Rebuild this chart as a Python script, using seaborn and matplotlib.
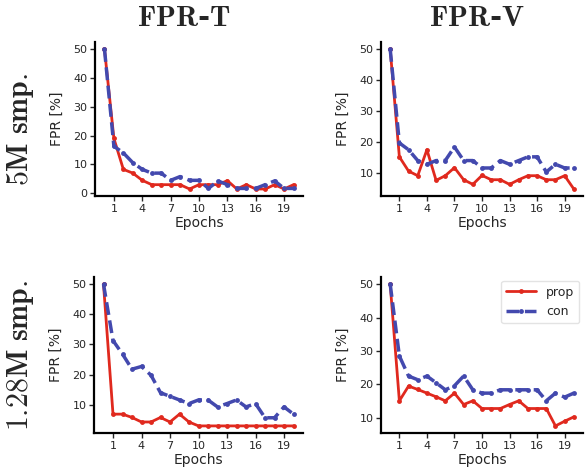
import matplotlib
matplotlib.use("Agg")
import matplotlib.pyplot as plt
import seaborn as sns
import pandas as pd
import numpy as np

# epochs 0..20
epochs = list(range(21))

# 5M samples, FPR-T
prop_5m_t = [50, 19, 8.3, 7.0, 4.5, 3.0, 3.0, 3.0, 3.0, 1.5, 3.0, 3.0, 3.0, 4.4, 1.5, 3.0, 1.5, 1.5, 3.0, 1.5, 3.0]
con_5m_t = [50, 16.3, 14.0, 10.6, 8.3, 7.0, 7.0, 4.5, 5.8, 4.5, 4.5, 1.7, 4.3, 3.0, 1.7, 1.7, 1.7, 3.0, 4.3, 1.7, 1.7]
# 5M samples, FPR-V
prop_5m_v = [50, 15.1, 10.5, 9.0, 17.4, 7.5, 9.0, 11.6, 7.7, 6.2, 9.1, 7.7, 7.7, 6.2, 7.7, 9.0, 9.0, 7.7, 7.7, 9.0, 4.7]
con_5m_v = [50, 19.6, 17.4, 13.9, 12.7, 13.9, 13.9, 18.3, 13.9, 13.9, 11.5, 11.5, 13.9, 12.7, 13.9, 15.1, 15.1, 10.2, 12.7, 11.5, 11.5]
# 1.28M samples, FPR-T
prop_128m_t = [50, 6.9, 6.9, 5.8, 4.3, 4.3, 5.8, 4.3, 6.9, 4.3, 3.0, 3.0, 3.0, 3.0, 3.0, 3.0, 3.0, 3.0, 3.0, 3.0, 3.0]
con_128m_t = [50, 31.3, 26.8, 21.8, 22.7, 19.8, 14.0, 12.8, 11.6, 10.4, 11.6, 11.6, 9.3, 10.4, 11.6, 9.3, 10.4, 5.7, 5.7, 9.3, 6.9]
# 1.28M samples, FPR-V
prop_128m_v = [50, 15.1, 19.5, 18.5, 17.4, 16.3, 15.1, 17.4, 14.0, 15.1, 12.8, 12.8, 12.8, 14.0, 15.1, 12.8, 12.8, 12.8, 7.6, 9.0, 10.3]
con_128m_v = [50, 28.5, 22.5, 21.4, 22.5, 20.5, 18.4, 19.6, 22.5, 18.4, 17.4, 17.4, 18.4, 18.4, 18.4, 18.4, 18.4, 15.1, 17.4, 16.2, 17.4]

# computer-modern bold via mathtext, hyphen kept as a real hyphen
col_titles = [r"$\mathbf{FPR}$-$\mathbf{T}$", r"$\mathbf{FPR}$-$\mathbf{V}$"]
row_titles = [r"$\mathbf{5M\ smp.}$", r"$\mathbf{1.28M\ smp.}$"]
xticks = [1, 4, 7, 10, 13, 16, 19]

RED = "#e0291e"
BLUE = "#4349ae"

sns.set_theme(style="ticks")
plt.rcParams["font.family"] = ["DejaVu Sans"]
plt.rcParams["mathtext.fontset"] = "cm"

W, H = 585, 474
fig = plt.figure(figsize=(W / 100, H / 100), dpi=100)

def box(l, t, r, b):
    return [l / W, 1 - b / H, (r - l) / W, (b - t) / H]

panels = [
    (box(95, 42, 303, 196), prop_5m_t, con_5m_t),
    (box(381, 42, 583, 196), prop_5m_v, con_5m_v),
    (box(94, 277, 303, 433), prop_128m_t, con_128m_t),
    (box(381, 277, 583, 433), prop_128m_v, con_128m_v),
]

axes = []
for rect, prop, con in panels:
    ax = fig.add_axes(rect)
    sns.lineplot(x=epochs, y=prop, color=RED, linewidth=2, marker="o",
                 markersize=3.5, markeredgewidth=0, label="prop", ax=ax)
    sns.lineplot(x=epochs, y=con, color=BLUE, linewidth=2.5, linestyle="--",
                 marker="o", markersize=3.5, markeredgewidth=0, label="con", ax=ax)
    ax.set_xticks(xticks)
    ax.set_xlabel("Epochs", fontsize=10, labelpad=2)
    ax.set_ylabel("FPR [%]", fontsize=10, labelpad=7)
    ax.tick_params(labelsize=8, length=3.5, width=1, pad=2)
    for s in ["left", "bottom"]:
        ax.spines[s].set_linewidth(1.6)
        ax.spines[s].set_color("black")
    sns.despine(ax=ax)
    ax.get_legend().remove()
    axes.append(ax)

leg = axes[3].legend(loc="upper right", fontsize=9, handlelength=2.4,
                     frameon=True, borderaxespad=0.3)
leg.get_frame().set_edgecolor("#dddddd")

for x, t in zip([184, 477], col_titles):
    fig.text(x / W, 1 - 18 / H, t, ha="center", va="center", fontsize=21,
             fontweight="bold", family="DejaVu Serif")
for y, t in zip([129, 355], row_titles):
    fig.text(20 / W, 1 - y / H, t, ha="center", va="center", rotation=90,
             fontsize=21.5, fontweight="bold", family="DejaVu Serif")

fig.savefig("out.png", dpi=100)
